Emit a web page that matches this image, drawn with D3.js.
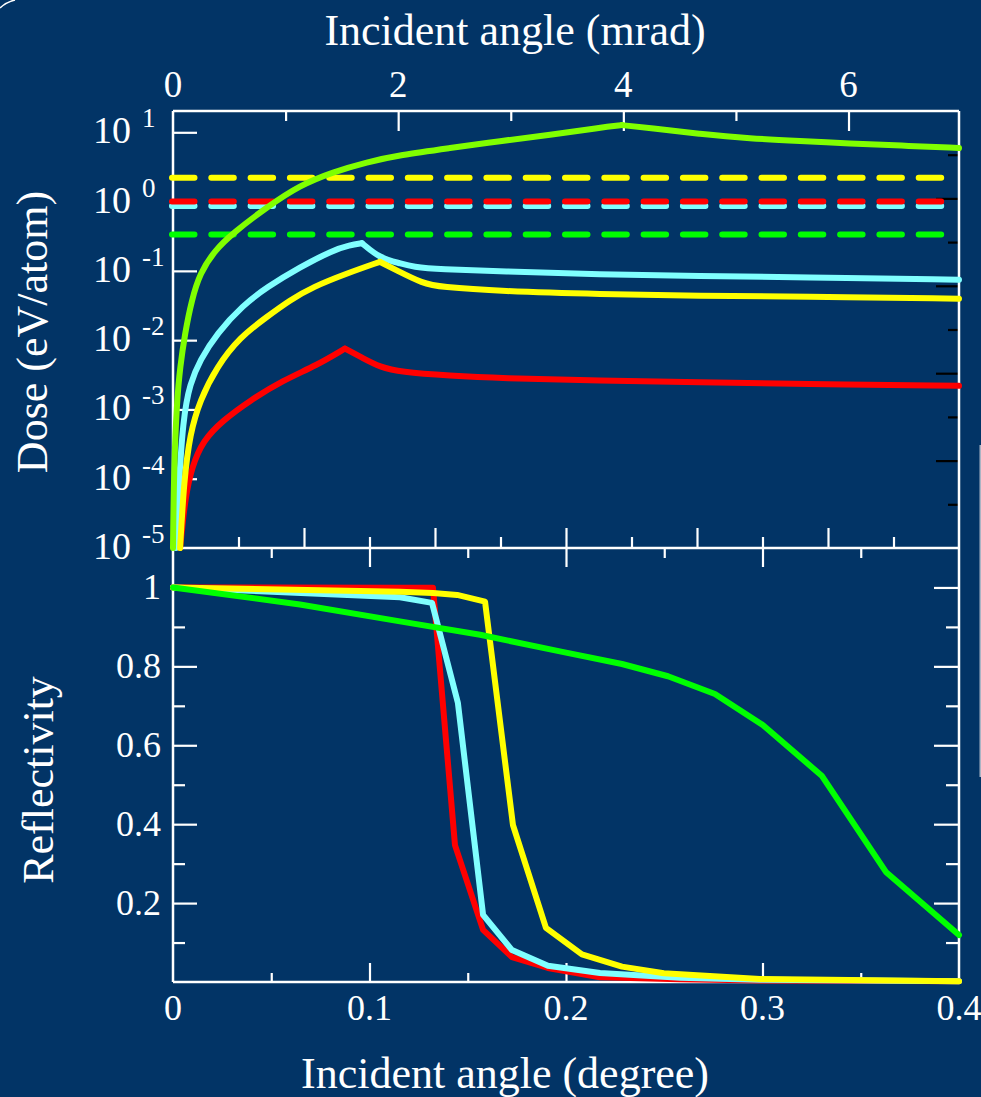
<!DOCTYPE html>
<html>
<head>
<meta charset="utf-8">
<script src="https://cdn.jsdelivr.net/npm/d3@7"></script>
<style>
  body { margin: 0; background: #023466; overflow: hidden; }
  svg text { font-family: "Liberation Serif", "Times New Roman", serif; fill: #fff; }
</style>
</head>
<body>
<svg id="chart" width="981" height="1097"></svg>
<script>
// ---- data (angle in degree) ----
var greenDoseAngle = [0, 0.0005, 0.002, 0.0036, 0.0061, 0.0095, 0.0137, 0.0214, 0.0305, 0.0478, 0.0646, 0.0814, 0.0987, 0.1155, 0.141, 0.1664, 0.1919, 0.2173, 0.2285, 0.2427, 0.2682, 0.2936, 0.3191, 0.3445, 0.37, 0.4]
var greenDose = [1e-5, 1.46e-4, 1.35e-3, 4.06e-3, 0.0126, 0.0378, 0.0926, 0.2, 0.351, 0.833, 1.73, 2.67, 3.72, 4.70, 5.93, 7.49, 9.14, 11.7, 12.7, 11.5, 9.45, 8.13, 7.48, 6.89, 6.44, 5.93]

var cyanDoseAngle = [0.0015, 0.0025, 0.0051, 0.0087, 0.0137, 0.0224, 0.0356, 0.0478, 0.0646, 0.0814, 0.09, 0.0962, 0.1053, 0.1155, 0.1221, 0.1359, 0.1664, 0.2173, 0.2682, 0.3191, 0.4]
var cyanDose = [1e-5, 4.85e-5, 7.69e-4, 2.38e-3, 5.13e-3, 0.0126, 0.032, 0.0581, 0.113, 0.199, 0.235, 0.251, 0.1526, 0.129, 0.114, 0.105, 0.099, 0.0881, 0.0838, 0.0811, 0.0746]

var yellowDoseAngle = [0.0036, 0.0056, 0.0087, 0.0137, 0.0222, 0.0341, 0.0477, 0.0595, 0.0712, 0.0884, 0.1053, 0.1138, 0.1272, 0.1359, 0.1664, 0.2173, 0.2682, 0.3191, 0.4]
var yellowDose = [1e-5, 9.45e-5, 4.52e-4, 1.35e-3, 4.1e-3, 0.0111, 0.0216, 0.0378, 0.0587, 0.0917, 0.135, 0.102, 0.0658, 0.0587, 0.0509, 0.046, 0.0438, 0.0424, 0.0397]

var redDoseAngle = [0.0036, 0.0044, 0.0061, 0.0095, 0.0153, 0.0254, 0.0392, 0.056, 0.0732, 0.0875, 0.0967, 0.1053, 0.1155, 0.141, 0.1664, 0.2173, 0.2682, 0.3191, 0.4]
var redDose = [1e-5, 1.62e-5, 4.85e-5, 1.47e-4, 3.57e-4, 6.95e-4, 1.35e-3, 2.63e-3, 4.34e-3, 7.57e-3, 5.47e-3, 4.1e-3, 3.47e-3, 3.06e-3, 2.82e-3, 2.59e-3, 2.47e-3, 2.34e-3, 2.19e-3]

// dashed dose levels
var limitNames = ["yellow", "cyan", "red", "green"]
var limitDose = [2.2, 0.86, 1.0, 0.336]

var redReflAngle = [0, 0.1155, 0.1323, 0.1435, 0.1578, 0.1725, 0.1908, 0.2173, 0.258, 0.2987, 0.4]
var redRefl = [1.0, 0.999, 0.999, 0.347, 0.132, 0.063, 0.0355, 0.012, 0.007, 0.004, 0.002]

var cyanReflAngle = [0, 0.1155, 0.1318, 0.145, 0.1578, 0.1725, 0.1908, 0.2173, 0.258, 0.2987, 0.4]
var cyanRefl = [1.0, 0.975, 0.961, 0.707, 0.17, 0.081, 0.041, 0.023, 0.011, 0.006, 0.002]

var yellowReflAngle = [0, 0.1155, 0.1323, 0.1446, 0.1588, 0.173, 0.1898, 0.2081, 0.2285, 0.2498, 0.2987, 0.4]
var yellowRefl = [1.0, 0.989, 0.986, 0.981, 0.964, 0.398, 0.137, 0.07, 0.039, 0.022, 0.0076, 0.002]

var greenReflAngle = [0, 0.0646, 0.1155, 0.1563, 0.1969, 0.2285, 0.2519, 0.2758, 0.3003, 0.3303, 0.3628, 0.4]
var greenRefl = [1.0, 0.957, 0.914, 0.88, 0.838, 0.806, 0.775, 0.73, 0.651, 0.522, 0.279, 0.119]

var degTicks = [0, 0.1, 0.2, 0.3, 0.4]
var mradTicks = [0, 2, 4, 6]
var decadeExp = [1, 0, -1, -2, -3, -4, -5]
var reflTicks = [0.2, 0.4, 0.6, 0.8, 1]

var colors = { green: "#00ff00", lime: "#80ff00", cyan: "#80ffff", yellow: "#ffff00", red: "#ff0000" }

// ---- layout ----
var plotL = 173, plotR = 959, plotT = 111, plotM = 548, plotB = 982
var lw = 6

var svg = d3.select("#chart")

svg.append("rect").attr("width", 981).attr("height", 1097).attr("fill", "#023466")

var x = d3.scaleLinear().domain([0, 0.4]).range([plotL, plotR])
var xMrad = d3.scaleLinear().domain([0, 0.4 * Math.PI / 180 * 1000]).range([plotL, plotR])
var yDose = d3.scaleLog().domain([1e-5, 20.3]).range([plotM, plotT])
var yRefl = d3.scaleLinear().domain([0, 1.1]).range([plotB, plotM])
// unlabeled helper scales for the extra tick rows
var xSub = d3.scaleLinear().domain([0, 12]).range([plotL, plotR])
var yRight = d3.scaleLinear().domain([0, 10]).range([plotM, plotT])

// ---- ticks ----
function tickRow(axis, tr, values, size, color) {
	var g = svg.append("g")
		.attr("transform", tr)
		.call(axis.tickValues(values).tickSize(size).tickFormat(""))
	g.select(".domain").remove()
	g.selectAll("text").remove()
	g.selectAll("line").attr("stroke", color).attr("stroke-width", 2.2)
}

// top (mrad) ticks, pointing down
tickRow(d3.axisTop(xMrad), "translate(0," + plotT + ")", [2, 4, 6], -20, "#fff")
tickRow(d3.axisTop(xMrad), "translate(0," + plotT + ")", [1, 3, 5], -10, "#fff")
// bottom of dose panel, pointing up
tickRow(d3.axisBottom(xSub), "translate(0," + plotM + ")", [2, 4, 6, 8, 10], -20, "#fff")
tickRow(d3.axisBottom(xSub), "translate(0," + plotM + ")", [1, 3, 5, 7, 9, 11], -11, "#fff")
// top of reflectivity panel, pointing down
tickRow(d3.axisTop(x), "translate(0," + plotM + ")", [0.1, 0.2, 0.3], -19, "#fff")
tickRow(d3.axisTop(x), "translate(0," + plotM + ")", [0.05, 0.15, 0.25, 0.35], -10, "#fff")
// bottom axis
tickRow(d3.axisBottom(x), "translate(0," + plotB + ")", [0.1, 0.2, 0.3], -19, "#fff")
tickRow(d3.axisBottom(x), "translate(0," + plotB + ")", [0.05, 0.15, 0.25, 0.35], -9, "#fff")
// dose left decades
tickRow(d3.axisLeft(yDose), "translate(" + plotL + ",0)", [10, 1, 0.1, 0.01, 0.001, 0.0001], -24, "#fff")
// right black ticks of dose panel
tickRow(d3.axisRight(yRight), "translate(" + plotR + ",0)", [2, 4, 6, 8], -23, "#000")
tickRow(d3.axisRight(yRight), "translate(" + plotR + ",0)", [1, 3, 5, 7, 9], -11, "#000")
// reflectivity left / right
tickRow(d3.axisLeft(yRefl), "translate(" + plotL + ",0)", [0.2, 0.4, 0.6, 0.8, 1.0], -24, "#fff")
tickRow(d3.axisLeft(yRefl), "translate(" + plotL + ",0)", [0.1, 0.3, 0.5, 0.7, 0.9], -12, "#fff")
tickRow(d3.axisRight(yRefl), "translate(" + plotR + ",0)", [0.2, 0.4, 0.6, 0.8, 1.0], -25, "#fff")
tickRow(d3.axisRight(yRefl), "translate(" + plotR + ",0)", [0.1, 0.3, 0.5, 0.7, 0.9], -13, "#fff")

// ---- frame ----
var frame = svg.append("g").attr("stroke", "#fff").attr("stroke-width", 2.5)
frame.append("line").attr("x1", plotL).attr("x2", plotL).attr("y1", plotT).attr("y2", plotB)
frame.append("line").attr("x1", plotR).attr("x2", plotR).attr("y1", plotT).attr("y2", plotB)
frame.append("line").attr("x1", plotL).attr("x2", plotR).attr("y1", plotT).attr("y2", plotT)
frame.append("line").attr("x1", plotL).attr("x2", plotR).attr("y1", plotM).attr("y2", plotM)
frame.append("line").attr("x1", plotL).attr("x2", plotR).attr("y1", plotB).attr("y2", plotB)

// ---- dashed dose levels ----
svg.selectAll(".limit")
	.data(limitDose)
	.enter()
	.append("line")
	.attr("class", "limit")
	.attr("x1", x(0)).attr("x2", x(0.4))
	.attr("y1", function (d) { return yDose(d) })
	.attr("y2", function (d) { return yDose(d) })
	.attr("stroke", function (d, i) { return colors[limitNames[i]] })
	.attr("stroke-width", lw)
	.attr("stroke-linecap", "round")
	.attr("stroke-dasharray", "22.5,16.8")
	.attr("transform", "translate(-1,0)")

// ---- curves ----
function drawPath(pts, yScale, color, curveType) {
	var line = d3.line()
		.curve(curveType)
		.x(function (d) { return x(d[0]) })
		.y(function (d) { return yScale(d[1]) })
	svg.append("path")
		.datum(pts)
		.attr("d", line)
		.attr("fill", "none")
		.attr("stroke", color)
		.attr("stroke-width", lw)
		.attr("stroke-linejoin", "round")
		.attr("stroke-linecap", "round")
}

// dose curves: smoothed on both sides of the sharp maximum
function doseCurve(xs, ys, color) {
	var pts = xs.map(function (d, i) { return [d, ys[i]] })
	var peak = d3.maxIndex(ys)
	drawPath(pts.slice(0, peak + 1), yDose, color, d3.curveBasis)
	drawPath(pts.slice(peak), yDose, color, d3.curveBasis)
}

function reflCurve(xs, ys, color) {
	var pts = xs.map(function (d, i) { return [d, ys[i]] })
	drawPath(pts, yRefl, color, d3.curveLinear)
}

doseCurve(redDoseAngle, redDose, colors.red)
doseCurve(cyanDoseAngle, cyanDose, colors.cyan)
doseCurve(yellowDoseAngle, yellowDose, colors.yellow)
doseCurve(greenDoseAngle, greenDose, colors.lime)

reflCurve(redReflAngle, redRefl, colors.red)
reflCurve(cyanReflAngle, cyanRefl, colors.cyan)
reflCurve(yellowReflAngle, yellowRefl, colors.yellow)
reflCurve(greenReflAngle, greenRefl, colors.green)

// ---- labels ----
svg.selectAll(".mradLabel")
	.data(mradTicks)
	.enter()
	.append("text")
	.attr("x", function (d) { return xMrad(d) })
	.attr("y", 97)
	.attr("text-anchor", "middle")
	.attr("font-size", 37)
	.text(function (d) { return d })

svg.selectAll(".degLabel")
	.data(degTicks)
	.enter()
	.append("text")
	.attr("x", function (d) { return x(d) })
	.attr("y", 1020)
	.attr("text-anchor", "middle")
	.attr("font-size", 36)
	.text(function (d) { return d })

svg.selectAll(".reflLabel")
	.data(reflTicks)
	.enter()
	.append("text")
	.attr("x", 161)
	.attr("y", function (d) { return yRefl(d) + 12 })
	.attr("text-anchor", "end")
	.attr("font-size", 36)
	.text(function (d) { return d })

var dec = svg.selectAll(".decLabel")
	.data(decadeExp)
	.enter()
	.append("text")
	.attr("x", 93)
	.attr("y", function (d) { return yDose(Math.pow(10, d)) + 11 })
	.attr("font-size", 38)
dec.append("tspan").text("10")
dec.append("tspan")
	.attr("dx", 11)
	.attr("dy", -16)
	.attr("font-size", 27)
	.text(function (d) { return d })

svg.append("text")
	.attr("x", 515)
	.attr("y", 45)
	.attr("text-anchor", "middle")
	.attr("font-size", 44)
	.text("Incident angle (mrad)")

svg.append("text")
	.attr("x", 505)
	.attr("y", 1088)
	.attr("text-anchor", "middle")
	.attr("font-size", 44)
	.text("Incident angle (degree)")

svg.append("text")
	.attr("transform", "translate(47,332) rotate(-90)")
	.attr("text-anchor", "middle")
	.attr("font-size", 44)
	.text("Dose (eV/atom)")

svg.append("text")
	.attr("transform", "translate(53,780) rotate(-90)")
	.attr("text-anchor", "middle")
	.attr("font-size", 44)
	.text("Reflectivity")

// slide decorations
svg.append("path")
	.attr("d", "M0,8 Q6,2 15,0")
	.attr("fill", "none")
	.attr("stroke", "#fff")
	.attr("stroke-width", 1.5)
svg.append("rect")
	.attr("x", 979.5).attr("y", 445)
	.attr("width", 1.5).attr("height", 332)
	.attr("fill", "#aab4c4")
</script>
</body>
</html>
